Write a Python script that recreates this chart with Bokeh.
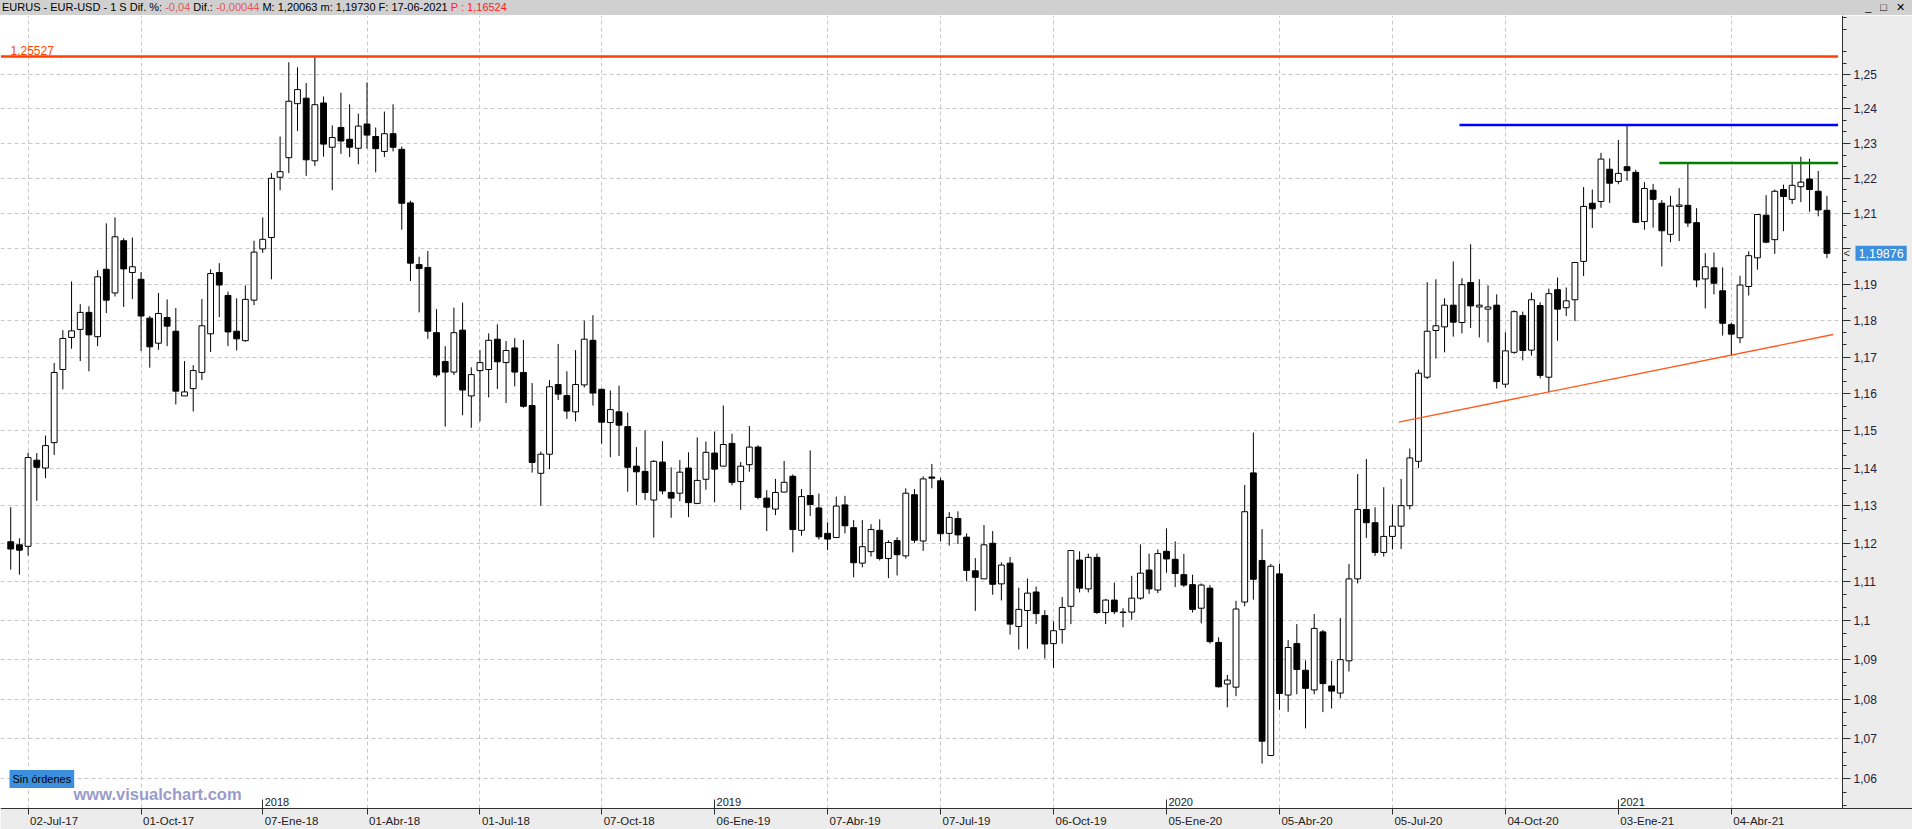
import numpy as np
import pandas as pd
from bokeh.plotting import figure
from bokeh.models import (ColumnDataSource, Range1d, FixedTicker, CustomJSTickFormatter,
                          Label, LabelSet, Div)
from bokeh.layouts import column
from bokeh.embed import file_html
from bokeh.resources import INLINE
from bokeh.core.properties import value

# ---------------- data (weekly EUR/USD, week-ending Sunday) ----------------
dates = pd.date_range("2017-06-18", periods=210, freq="7D")

opens = [1.1205, 1.1197, 1.1193, 1.1421, 1.1400, 1.1468, 1.1666, 1.1754, 1.1776, 1.1823,
         1.1756, 1.1943, 1.1877, 1.2023, 1.1934, 1.1915, 1.1807, 1.1738, 1.1809, 1.1771,
         1.1594, 1.1614, 1.1658, 1.1764, 1.1934, 1.1870, 1.1771, 1.1745, 1.1857, 1.2000,
         1.2032, 1.2203, 1.2259, 1.2415, 1.2431, 1.2250, 1.2417, 1.2289, 1.2346, 1.2312,
         1.2286, 1.2356, 1.2320, 1.2277, 1.2328, 1.2283, 1.2130, 1.1956, 1.1948, 1.1767,
         1.1688, 1.1659, 1.1774, 1.1594, 1.1663, 1.1666, 1.1749, 1.1685, 1.1725, 1.1658,
         1.1568, 1.1386, 1.1437, 1.1625, 1.1595, 1.1551, 1.1624, 1.1746, 1.1612, 1.1522,
         1.1551, 1.1511, 1.1405, 1.1391, 1.1315, 1.1416, 1.1335, 1.1333, 1.1400, 1.1306,
         1.1370, 1.1440, 1.1405, 1.1466, 1.1364, 1.1409, 1.1456, 1.1320, 1.1291, 1.1336,
         1.1378, 1.1235, 1.1327, 1.1294, 1.1227, 1.1216, 1.1302, 1.1242, 1.1149, 1.1179,
         1.1235, 1.1161, 1.1208, 1.1168, 1.1329, 1.1207, 1.1376, 1.1366, 1.1227, 1.1266,
         1.1217, 1.1129, 1.1108, 1.1201, 1.1095, 1.1149, 1.0985, 1.1026, 1.1074, 1.1013,
         1.0941, 1.0977, 1.1037, 1.1157, 1.1082, 1.1164, 1.1021, 1.1053, 1.1021, 1.1022,
         1.1058, 1.1131, 1.1079, 1.1180, 1.1159, 1.1119, 1.1093, 1.1032, 1.1084, 1.0944,
         1.0838, 1.0830, 1.1048, 1.1387, 1.1156, 1.0658, 1.1121, 1.0810, 1.0941, 1.0873,
         1.0823, 1.0971, 1.0833, 1.0815, 1.0897, 1.1108, 1.1290, 1.1255, 1.1177, 1.1219,
         1.1246, 1.1300, 1.1418, 1.1645, 1.1773, 1.1783, 1.1843, 1.1795, 1.1906, 1.1838,
         1.1832, 1.1843, 1.1626, 1.1713, 1.1814, 1.1719, 1.1842, 1.1645, 1.1886, 1.1836,
         1.1858, 1.1965, 1.2129, 1.2134, 1.2226, 1.2191, 1.2233, 1.2217, 1.2077, 1.2166,
         1.2129, 1.2041, 1.2120, 1.2123, 1.2074, 1.1916, 1.1947, 1.1883, 1.1789, 1.1753,
         1.1895, 1.1975, 1.2095, 1.2026, 1.2168, 1.2140, 1.2176, 1.2198, 1.2163, 1.2109]

highs = [1.1296, 1.1214, 1.1441, 1.1440, 1.1487, 1.1684, 1.1774, 1.1909, 1.1846, 1.1840,
         1.1940, 1.2072, 1.2089, 1.2030, 1.2032, 1.1935, 1.1813, 1.1877, 1.1859, 1.1835,
         1.1689, 1.1678, 1.1860, 1.1943, 1.1960, 1.1881, 1.1862, 1.1898, 1.2023, 1.2089,
         1.2215, 1.2320, 1.2536, 1.2521, 1.2475, 1.2552, 1.2436, 1.2352, 1.2447, 1.2413,
         1.2386, 1.2477, 1.2346, 1.2392, 1.2413, 1.2291, 1.2136, 1.1978, 1.1994, 1.1832,
         1.1730, 1.1836, 1.1850, 1.1672, 1.1719, 1.1765, 1.1790, 1.1744, 1.1752, 1.1747,
         1.1629, 1.1444, 1.1637, 1.1736, 1.1661, 1.1719, 1.1800, 1.1815, 1.1614, 1.1609,
         1.1622, 1.1549, 1.1456, 1.1501, 1.1421, 1.1472, 1.1402, 1.1421, 1.1442, 1.1482,
         1.1471, 1.1498, 1.1568, 1.1492, 1.1416, 1.1513, 1.1461, 1.1341, 1.1371, 1.1419,
         1.1383, 1.1344, 1.1447, 1.1332, 1.1256, 1.1324, 1.1326, 1.1262, 1.1262, 1.1251,
         1.1264, 1.1209, 1.1217, 1.1346, 1.1344, 1.1378, 1.1411, 1.1374, 1.1283, 1.1285,
         1.1227, 1.1162, 1.1249, 1.1233, 1.1151, 1.1165, 1.1085, 1.1109, 1.1088, 1.1027,
         1.0998, 1.1061, 1.1182, 1.1180, 1.1174, 1.1174, 1.1056, 1.1098, 1.1032, 1.1116,
         1.1198, 1.1174, 1.1185, 1.1240, 1.1206, 1.1173, 1.1119, 1.1096, 1.1092, 1.0957,
         1.0861, 1.1051, 1.1355, 1.1495, 1.1238, 1.1147, 1.1147, 1.0950, 1.0991, 1.0898,
         1.1017, 1.0976, 1.0897, 1.1007, 1.1147, 1.1384, 1.1424, 1.1296, 1.1349, 1.1303,
         1.1371, 1.1452, 1.1666, 1.1907, 1.1915, 1.1862, 1.1965, 1.1918, 1.2013, 1.1915,
         1.1898, 1.1873, 1.1768, 1.1829, 1.1825, 1.1878, 1.1851, 1.1889, 1.1920, 1.1892,
         1.1962, 1.2175, 1.2168, 1.2273, 1.2257, 1.2310, 1.2352, 1.2224, 1.2189, 1.2184,
         1.2138, 1.2150, 1.2172, 1.2241, 1.2115, 1.1988, 1.1990, 1.1948, 1.1794, 1.1925,
         1.1993, 1.2097, 1.2152, 1.2168, 1.2182, 1.2240, 1.2262, 1.2256, 1.2221, 1.2150]

lows = [1.1132, 1.1119, 1.1169, 1.1313, 1.1373, 1.1435, 1.1612, 1.1723, 1.1689, 1.1661,
        1.1730, 1.1821, 1.1867, 1.1838, 1.1860, 1.1717, 1.1671, 1.1720, 1.1730, 1.1571,
        1.1594, 1.1552, 1.1637, 1.1714, 1.1810, 1.1730, 1.1718, 1.1742, 1.1843, 1.1989,
        1.1915, 1.2166, 1.2215, 1.2336, 1.2207, 1.2235, 1.2262, 1.2166, 1.2270, 1.2261,
        1.2240, 1.2285, 1.2217, 1.2261, 1.2277, 1.2054, 1.1910, 1.1823, 1.1750, 1.1645,
        1.1511, 1.1651, 1.1542, 1.1508, 1.1525, 1.1590, 1.1613, 1.1575, 1.1620, 1.1562,
        1.1388, 1.1300, 1.1397, 1.1583, 1.1532, 1.1525, 1.1617, 1.1568, 1.1465, 1.1429,
        1.1432, 1.1337, 1.1301, 1.1315, 1.1216, 1.1330, 1.1268, 1.1312, 1.1270, 1.1306,
        1.1342, 1.1309, 1.1405, 1.1354, 1.1289, 1.1390, 1.1317, 1.1233, 1.1275, 1.1336,
        1.1177, 1.1221, 1.1273, 1.1211, 1.1183, 1.1216, 1.1227, 1.1112, 1.1138, 1.1166,
        1.1156, 1.1110, 1.1117, 1.1161, 1.1202, 1.1181, 1.1346, 1.1206, 1.1195, 1.1199,
        1.1102, 1.1025, 1.1108, 1.1067, 1.1052, 1.0964, 1.0926, 1.0928, 1.0991, 1.0903,
        1.0879, 1.0941, 1.0991, 1.1073, 1.1073, 1.1017, 1.0991, 1.1017, 1.0983, 1.1002,
        1.1054, 1.1069, 1.1071, 1.1124, 1.1087, 1.1087, 1.1021, 1.0993, 1.0941, 1.0829,
        1.0779, 1.0807, 1.1037, 1.1054, 1.0638, 1.0658, 1.0773, 1.0768, 1.0812, 1.0726,
        1.0812, 1.0767, 1.0776, 1.0802, 1.0870, 1.1096, 1.1215, 1.1168, 1.1166, 1.1185,
        1.1186, 1.1290, 1.1400, 1.1640, 1.1696, 1.1713, 1.1756, 1.1765, 1.1780, 1.1754,
        1.1740, 1.1614, 1.1617, 1.1709, 1.1691, 1.1704, 1.1642, 1.1604, 1.1745, 1.1813,
        1.1799, 1.1924, 1.2059, 1.2116, 1.2130, 1.2183, 1.2193, 1.2073, 1.2054, 1.2060,
        1.1951, 1.2019, 1.2022, 1.2062, 1.1893, 1.1834, 1.1873, 1.1759, 1.1703, 1.1738,
        1.1870, 1.1942, 1.2016, 1.1986, 1.2050, 1.2127, 1.2132, 1.2105, 1.2092, 1.1974]

closes = [1.1186, 1.1183, 1.1428, 1.1402, 1.1460, 1.1658, 1.1751, 1.1772, 1.1823, 1.1761,
          1.1922, 1.1857, 1.2034, 1.1944, 1.1950, 1.1813, 1.1728, 1.1820, 1.1785, 1.1607,
          1.1605, 1.1663, 1.1786, 1.1931, 1.1899, 1.1769, 1.1750, 1.1859, 1.1991, 1.2027,
          1.2200, 1.2219, 1.2422, 1.2456, 1.2253, 1.2412, 1.2298, 1.2317, 1.2307, 1.2289,
          1.2350, 1.2324, 1.2285, 1.2328, 1.2289, 1.2129, 1.1960, 1.1945, 1.1771, 1.1651,
          1.1659, 1.1767, 1.1610, 1.1652, 1.1685, 1.1746, 1.1687, 1.1718, 1.1659, 1.1566,
          1.1415, 1.1437, 1.1619, 1.1599, 1.1553, 1.1625, 1.1749, 1.1602, 1.1523, 1.1557,
          1.1515, 1.1402, 1.1390, 1.1335, 1.1418, 1.1339, 1.1320, 1.1389, 1.1308, 1.1367,
          1.1442, 1.1397, 1.1463, 1.1362, 1.1405, 1.1456, 1.1322, 1.1296, 1.1335, 1.1362,
          1.1237, 1.1324, 1.1303, 1.1218, 1.1212, 1.1299, 1.1247, 1.1150, 1.1192, 1.1237,
          1.1161, 1.1203, 1.1171, 1.1333, 1.1209, 1.1371, 1.1373, 1.1226, 1.1269, 1.1223,
          1.1130, 1.1112, 1.1197, 1.1094, 1.1144, 1.0991, 1.1029, 1.1071, 1.1018, 1.0940,
          1.0974, 1.1034, 1.1182, 1.1084, 1.1164, 1.1021, 1.1053, 1.1023, 1.1022, 1.1058,
          1.1123, 1.1082, 1.1174, 1.1160, 1.1122, 1.1092, 1.1029, 1.1092, 1.0946, 1.0831,
          1.0848, 1.1030, 1.1284, 1.1107, 1.0694, 1.1141, 1.0814, 1.0931, 1.0875, 1.0827,
          1.0980, 1.0839, 1.0820, 1.0900, 1.1108, 1.1290, 1.1255, 1.1177, 1.1219, 1.1246,
          1.1300, 1.1427, 1.1656, 1.1771, 1.1786, 1.1843, 1.1796, 1.1900, 1.1841, 1.1843,
          1.1838, 1.1633, 1.1717, 1.1825, 1.1718, 1.1858, 1.1650, 1.1875, 1.1832, 1.1855,
          1.1962, 1.2120, 1.2113, 1.2255, 1.2186, 1.2214, 1.2222, 1.2075, 1.2171, 1.2140,
          1.2051, 1.2121, 1.2124, 1.2073, 1.1913, 1.1950, 1.1904, 1.1793, 1.1763, 1.1899,
          1.1981, 1.2097, 1.2019, 1.2163, 1.2148, 1.2180, 1.2189, 1.2168, 1.2110, 1.19876]

date_ticks = ["2017-07-02", "2017-10-01", "2018-01-07", "2018-04-01", "2018-07-01", "2018-10-07",
              "2019-01-06", "2019-04-07", "2019-07-07", "2019-10-06", "2020-01-05", "2020-04-05",
              "2020-07-05", "2020-10-04", "2021-01-03", "2021-04-04"]
date_labels = ["02-Jul-17", "01-Oct-17", "07-Ene-18", "01-Abr-18", "01-Jul-18", "07-Oct-18",
               "06-Ene-19", "07-Abr-19", "07-Jul-19", "06-Oct-19", "05-Ene-20", "05-Abr-20",
               "05-Jul-20", "04-Oct-20", "03-Ene-21", "04-Abr-21"]
year_ticks = ["2018-01-07", "2019-01-06", "2020-01-05", "2021-01-03"]
year_labels = ["2018", "2019", "2020", "2021"]
price_ticks = [1.06, 1.07, 1.08, 1.09, 1.10, 1.11, 1.12, 1.13, 1.14, 1.15,
               1.16, 1.17, 1.18, 1.19, 1.20, 1.21, 1.22, 1.23, 1.24, 1.25]

# drawn levels
level_values = [1.25527, 1.2353, 1.2244]
level_starts = ["2017-06-10", "2020-08-28", "2021-02-05"]
level_ends = ["2021-06-29", "2021-06-29", "2021-06-29"]
level_colors = ["#ff4000", "#0000ff", "#008000"]
trend_dates = ["2020-07-10", "2021-06-25"]
trend_values = [1.1523, 1.1762]
last_price = 1.19876


def ms(s):
    return pd.Timestamp(s).value / 1e6


DAY = 86400000.0
base = ms("2017-06-18")

# layout geometry (frame covers the whole canvas; axes are pinned inside it)
X0 = base - 8.23 * DAY          # left edge of canvas
X1 = base + 1531.93 * DAY       # right edge of canvas
XAXIS = base + 1475.54 * DAY    # position of the price axis
Y0, Y1 = 1.04751, 1.26739       # bottom / top of canvas
YAXIS = 1.05255                 # position of the date axis

p = figure(width=1912, height=814, x_axis_type="datetime", y_axis_type="log",
           y_axis_location="right",
           x_range=Range1d(X0, X1), y_range=Range1d(Y0, Y1),
           toolbar_location=None, output_backend="svg",
           min_border_left=0, min_border_top=0, min_border_right=0, min_border_bottom=0,
           background_fill_color="white", border_fill_color="#ececec",
           outline_line_color=None, margin=(0, 0, 0, 0))

# grids
nonyear = [ms(d) for d in date_ticks if d not in year_ticks]
p.xgrid.ticker = FixedTicker(ticks=nonyear)
for g in (p.xgrid, p.ygrid):
    g.grid_line_color = "#c8c8c8"
    g.grid_line_dash = "4 3"
    g.grid_line_width = 1

# ---------------- candles ----------------
o = np.array(opens)
c = np.array(closes)
src = ColumnDataSource(dict(
    date=dates, open=o, high=highs, low=lows, close=c,
    top=np.maximum(o, c), bottom=np.minimum(o, c),
    fill=["white" if cc >= oo else "black" for oo, cc in zip(o, c)]))
p.segment(x0="date", y0="low", x1="date", y1="high", source=src,
          line_color="black", line_width=1)
p.vbar(x="date", width=4.7 * DAY, top="top", bottom="bottom", source=src,
       fill_color="fill", line_color="black", line_width=1)

# ---------------- levels & trendline ----------------
lv = ColumnDataSource(dict(x0=[pd.Timestamp(s) for s in level_starts],
                           x1=[pd.Timestamp(s) for s in level_ends],
                           y=level_values, color=level_colors))
p.segment(x0="x0", y0="y", x1="x1", y1="y", source=lv, line_color="color", line_width=2.5)
p.line(x=[pd.Timestamp(s) for s in trend_dates], y=trend_values,
       line_color="#ff5a1e", line_width=1.3)

# ---------------- axis panels (backgrounds) ----------------
p.quad(left=[X0], right=[X1], bottom=[Y0], top=[YAXIS], fill_color="#ececec", line_color=None)
p.quad(left=[XAXIS], right=[X1], bottom=[Y0], top=[Y1], fill_color="#ececec", line_color=None)

# ---------------- axes ----------------
minor = []
for i in range(-3, 70):
    if i % 3 != 0:
        minor.append(round(1.05 + i * 0.01 / 3.0, 5))
yax = p.yaxis[0]
yax.fixed_location = XAXIS
yax.bounds = (YAXIS, Y1)
yax.ticker = FixedTicker(ticks=price_ticks, minor_ticks=minor)
yax.formatter = CustomJSTickFormatter(code="""
    let t = tick.toFixed(2).replace(/0+$/, '').replace(/\\.$/, '');
    if (t === '1.2') { return ''; }
    return t.replace('.', ',');
""")
yax.axis_line_color = "#303030"
yax.major_tick_line_color = "#303030"
yax.minor_tick_line_color = "#303030"
yax.major_tick_out = 8
yax.major_tick_in = 0
yax.minor_tick_out = 4
yax.minor_tick_in = 0
yax.major_label_standoff = 3
yax.major_label_text_font = "Liberation Sans"
yax.major_label_text_font_size = "12px"
yax.major_label_text_color = "#202040"

xax = p.xaxis[0]
xax.fixed_location = YAXIS
xax.ticker = FixedTicker(ticks=[ms(d) for d in date_ticks],
                         minor_ticks=[ms(d) for d in year_ticks])
xax.formatter = CustomJSTickFormatter(code="return '';")
xax.axis_line_color = "#303030"
xax.major_tick_line_color = "#303030"
xax.minor_tick_line_color = "#303030"
xax.major_tick_out = 6
xax.major_tick_in = 0
xax.minor_tick_out = 0
xax.minor_tick_in = 9
xax.major_label_standoff = 0

# ---------------- texts ----------------
p.add_layout(Label(x=10, y=level_values[0], x_units="screen", y_units="data",
                   text="1,25527", text_color="#ff4500", text_font="Liberation Sans",
                   text_font_size="12px", text_baseline="bottom", y_offset=2))

p.add_layout(Label(x=1843, y=last_price, x_units="screen", y_units="data",
                   text="<", text_color="#303030", text_font="Liberation Sans",
                   text_font_size="11px", text_baseline="middle"))
p.add_layout(Label(x=1855, y=last_price, x_units="screen", y_units="data",
                   text="1,19876", text_color="white", text_font="Liberation Sans",
                   text_font_size="12.5px", text_baseline="middle",
                   background_fill_color="#3b8fdd", padding=3))

p.add_layout(Label(x=9, y=50.5, x_units="screen", y_units="screen",
                   text="Sin órdenes", text_color="black", text_font="Liberation Sans",
                   text_font_size="11px", text_baseline="middle",
                   background_fill_color="#3b8fdd", padding=3))
p.add_layout(Label(x=73, y=36, x_units="screen", y_units="screen",
                   text="www.visualchart.com", text_color="#9a9acb", text_font="Liberation Sans",
                   text_font_size="16.5px", text_font_style="bold", text_baseline="middle"))

dsrc = ColumnDataSource(dict(x=[pd.Timestamp(d) for d in date_ticks], text=date_labels))
p.add_layout(LabelSet(x="x", y=15, y_units="screen", text="text", source=dsrc,
                      x_offset=2, text_baseline="top", text_align="left",
                      text_font=value("Liberation Sans"), text_font_size="11.5px",
                      text_color="#202020"))
ysrc = ColumnDataSource(dict(x=[pd.Timestamp(d) for d in year_ticks], text=year_labels))
p.add_layout(LabelSet(x="x", y=24, y_units="screen", text="text", source=ysrc,
                      x_offset=2, text_baseline="alphabetic", text_align="left",
                      text_font=value("Liberation Sans"), text_font_size="11px",
                      text_color="#202020"))

# ---------------- header ----------------
header_html = (
    '<div style="display:flex;justify-content:space-between;width:1912px;">'
    '<span style="padding-left:2px">EURUS - EUR-USD - 1 S Dif. %: <span style="color:#e05a5a">-0,04</span>'
    ' Dif.: <span style="color:#e05a5a">-0,00044</span> M: 1,20063 '
    'm: 1,19730 F: 17-06-2021 <span style="color:#ff2020">P : 1,16524</span></span>'
    '<span style="padding-right:4px;letter-spacing:3px">_&nbsp;&#9633;&nbsp;&#10005;</span></div>')
header = Div(text=header_html, width=1912, height=15, margin=(0, 0, 0, 0),
             styles={"background-color": "#d0d0d0", "font-family": "Liberation Sans, Arial, sans-serif",
                     "font-size": "11px", "line-height": "15px", "color": "#000",
                     "overflow": "hidden", "white-space": "nowrap"})

layout = column(header, p, spacing=0)

open("out.html", "w").write(file_html(layout, INLINE))
